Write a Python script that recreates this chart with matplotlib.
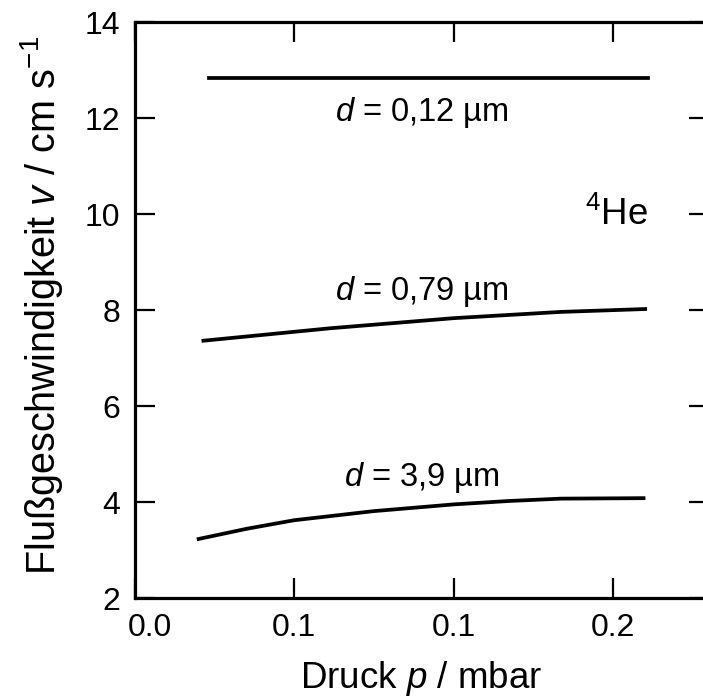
import matplotlib
matplotlib.use("Agg")
import matplotlib.pyplot as plt
import matplotlib.transforms as mtransforms

plt.rcParams['font.family'] = ['Liberation Sans', 'DejaVu Sans']
plt.rcParams['mathtext.fontset'] = 'custom'
plt.rcParams['mathtext.rm'] = 'Liberation Sans'
plt.rcParams['mathtext.it'] = 'Liberation Sans:italic'
plt.rcParams['mathtext.default'] = 'regular'

# data
p_012 = [0.0234, 0.161]
v_012 = [12.83, 12.83]
p_079 = [0.0216, 0.0614, 0.100, 0.1335, 0.160]
v_079 = [7.36, 7.62, 7.83, 7.96, 8.02]
p_39 = [0.0201, 0.035, 0.050, 0.075, 0.100, 0.117, 0.1335, 0.1595]
v_39 = [3.23, 3.44, 3.62, 3.81, 3.95, 4.02, 4.07, 4.08]
xticks = [0.0, 0.05, 0.10, 0.15]
xticklabels = ["0.0", "0.1", "0.1", "0.2"]
yticks = [2, 4, 6, 8, 10, 12, 14]
labels = ["$\\mathit{d}$ = 0,12 µm", "$\\mathit{d}$ = 0,79 µm", "$\\mathit{d}$ = 3,9 µm"]
label_pos = [(0.090, 12.12), (0.090, 8.38), (0.090, 4.52)]

W, H = 703, 697
fig = plt.figure(figsize=(W / 100, H / 100), dpi=100)
ax = fig.add_axes([134.5 / W, 1 - 598 / H, (709 - 134.5) / W, (598 - 22) / H])

lw = 2.7
ax.plot(p_012, v_012, color='black', lw=lw)
ax.plot(p_079, v_079, color='black', lw=lw)
ax.plot(p_39, v_39, color='black', lw=lw)

ax.set_xlim(0, 0.18)
ax.set_ylim(2, 14)
ax.set_xticks(xticks)
ax.set_xticklabels(xticklabels)
ax.set_yticks(yticks)
for s in ax.spines.values():
    s.set_linewidth(2.3)
ax.tick_params(direction='in', length=14.5, width=1.6, top=True, right=True,
               labelsize=23)
ax.tick_params(axis='y', pad=10)
ax.tick_params(axis='x', pad=11)

# shift first x label a bit to the right
off = mtransforms.ScaledTranslation(15 / 100, 0, fig.dpi_scale_trans)
lab0 = ax.get_xticklabels()[0]
lab0.set_transform(lab0.get_transform() + off)

for (x, y), t in zip(label_pos, labels):
    ax.text(x, y, t, ha='center', va='center', fontsize=23.5)

ax.text(0.1510, 9.98, "$^{4}$He", ha='center', va='center', fontsize=26.5)

fig.text(421 / W, 1 - 688 / H, "Druck $\\mathit{p}$ / mbar", ha='center', va='baseline', fontsize=26.5)
fig.text(42 / W, 1 - 305 / H, "Flußgeschwindigkeit $\\mathit{v}$ / cm s$^{-1}$", ha='center', va='center',
         rotation=90, fontsize=28.5)

fig.savefig("out.png", dpi=100)
